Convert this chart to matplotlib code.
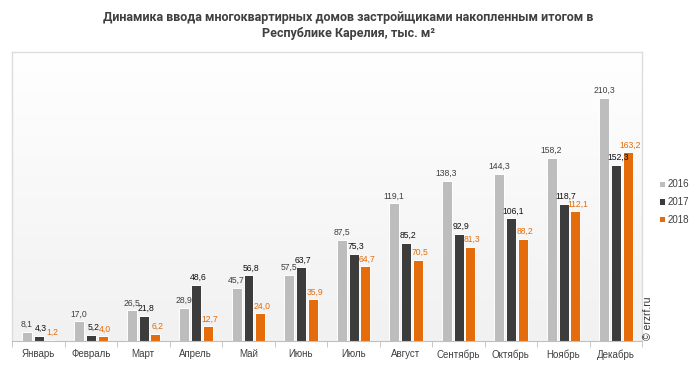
import matplotlib
matplotlib.use("Agg")
import matplotlib.pyplot as plt
import numpy as np
from matplotlib.colors import LinearSegmentedColormap

months = ["Январь", "Февраль", "Март", "Апрель", "Май", "Июнь", "Июль",
          "Август", "Сентябрь", "Октябрь", "Ноябрь", "Декабрь"]
series_names = ["2016", "2017", "2018"]
v2016 = [8.1, 17.0, 26.5, 28.9, 45.7, 57.5, 87.5, 119.1, 138.3, 144.3, 158.2, 210.3]
v2017 = [4.3, 5.2, 21.8, 48.6, 56.8, 63.7, 75.3, 85.2, 92.9, 106.1, 118.7, 152.3]
v2018 = [1.2, 4.0, 6.2, 12.7, 24.0, 35.9, 64.7, 70.5, 81.3, 88.2, 112.1, 163.2]
title = "Динамика ввода многоквартирных домов застройщиками накопленным итогом в\nРеспублике Карелия, тыс. м²"

colors = ["#bdbdbd", "#3c3c3c", "#e46c0a"]
label_colors = ["#404040", "#111111", "#e46c0a"]

plt.rcParams['font.family'] = ['Liberation Sans', 'DejaVu Sans']

fig = plt.figure(figsize=(6.97, 3.65), dpi=100)
ax = fig.add_axes([12/697, 24/365, 630/697, 289/365])

# gradient background
grad = np.linspace(0, 1, 256).reshape(-1, 1)
cmap = LinearSegmentedColormap.from_list("bg", ["#f1f1f1", "#ffffff"])
ax.imshow(grad, extent=[0, 1, 0, 1], transform=ax.transAxes, cmap=cmap,
          aspect="auto", origin="lower", zorder=0)

x = np.arange(len(months))
w = 0.19
offs = [-0.215, 0.005, 0.225]
label_shift = [-0.01, 0.045, 0.045]
for vals, off, sh, c, lc, name in zip([v2016, v2017, v2018], offs, label_shift, colors,
                                      label_colors, series_names):
    ax.bar(x + off, vals, width=w, color=c, edgecolor="white", linewidth=0.7,
           zorder=2, label=name)
    for xi, v in zip(x, vals):
        ax.text(xi + off + sh, v + 2.5, f"{v:.1f}".replace(".", ","), ha="center",
                va="bottom", fontsize=6.2, color=lc, zorder=3)

ax.set_xlim(-0.5, len(months) - 0.5)
ax.set_ylim(0, 250)
ax.set_yticks([])
ax.set_xticks(x)
ax.set_xticklabels(months, fontsize=7, color="#404040")
ax.tick_params(axis="x", length=0, pad=6)
ax.set_xticks(np.arange(len(months) + 1) - 0.5, minor=True)
ax.tick_params(axis="x", which="minor", length=4, color="#bfbfbf", direction="out")
for s in ["top", "left", "right"]:
    ax.spines[s].set_color("#dcdcdc")
    ax.spines[s].set_linewidth(1.0)
ax.spines["bottom"].set_color("#bfbfbf")

fig.text(0.5, 1 - 18/365, title.split("\n")[0], ha="center", va="center", fontsize=9,
         fontweight="bold", color="#404040", family=["Roboto", "DejaVu Sans"])
fig.text(0.5, 1 - 33/365, title.split("\n")[1], ha="center", va="center", fontsize=9,
         fontweight="bold", color="#404040", family=["Roboto", "DejaVu Sans"])

leg = fig.legend(loc="center left", bbox_to_anchor=(650/697, 1 - 202/365), frameon=False,
                 fontsize=7, handlelength=0.6, handleheight=0.6, handletextpad=0.3,
                 labelspacing=0.8, labelcolor="#404040")

fig.text(648/697, 1 - 318/365, "© erzrf.ru", rotation=90, ha="center", va="center",
         fontsize=7.5, color="#333333")

fig.savefig("out.png", dpi=100)
